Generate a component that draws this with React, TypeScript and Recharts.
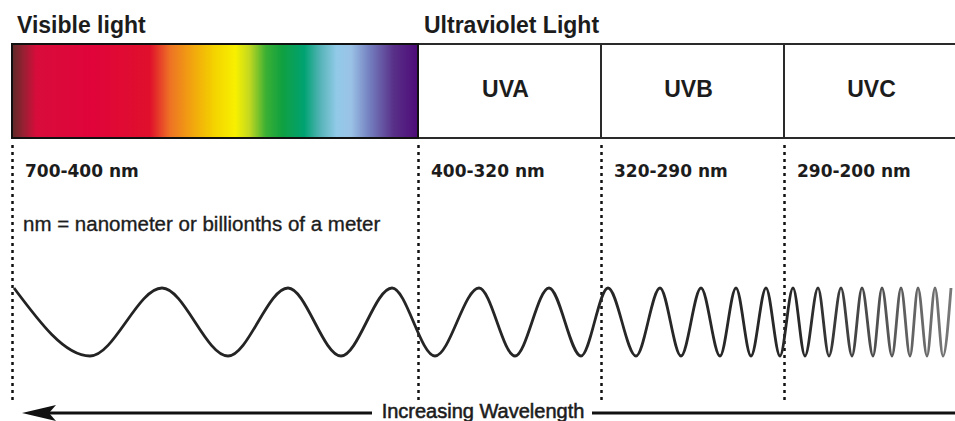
import React from "react";
import {
  ComposedChart,
  LineChart,
  Line,
  XAxis,
  YAxis,
  ReferenceArea,
  ReferenceLine,
  ReferenceDot,
} from "recharts";

// band edges along the diagram's x axis (visible, UVA, UVB, UVC)
const bandStart = [12, 418, 601, 784];
const bandEnd = [418, 601, 784, 967];
const rangeLabels = ["700-400 nm", "400-320 nm", "320-290 nm", "290-200 nm"];
const uvNames = ["UVA", "UVB", "UVC"];

// crests (1) and troughs (-1) of the wave
const waveX = [
  14, 90, 162, 228, 288, 341, 392, 435, 479, 515, 549, 581, 608, 636, 660,
  681, 701, 720, 736, 751, 766, 780, 793, 805, 818, 829, 841, 852, 862, 873,
  882, 892, 901, 910, 918, 927, 935, 943, 951,
];
const waveAmp = [
  1, -1, 1, -1, 1, -1, 1, -1, 1, -1, 1, -1, 1, -1, 1, -1, 1, -1, 1, -1, 1,
  -1, 1, -1, 1, -1, 1, -1, 1, -1, 1, -1, 1, -1, 1, -1, 1, -1, 1,
];
const waveData = waveX.map((x, i) => ({ x, y: waveAmp[i] }));

const spectrumStops: [number, string][] = [
  [0, "#5e2a28"],
  [0.03, "#9a1f32"],
  [0.06, "#d80c3a"],
  [0.2, "#e0043a"],
  [0.34, "#e0102c"],
  [0.39, "#ee7424"],
  [0.45, "#f2aa0c"],
  [0.5, "#f4d400"],
  [0.55, "#f8f000"],
  [0.585, "#c2d820"],
  [0.625, "#3cb034"],
  [0.665, "#10a040"],
  [0.72, "#00a272"],
  [0.76, "#56b4b8"],
  [0.8, "#92cae8"],
  [0.835, "#9ac2e6"],
  [0.88, "#7480c0"],
  [0.94, "#583088"],
  [1, "#4e0a78"],
];

const ARIAL = "'Liberation Sans', Arial, Helvetica, sans-serif";
const DEJAVU = "'DejaVu Sans', Verdana, sans-serif";

const textLabel =
  (
    value: string,
    size: number,
    opts: { anchor?: string; weight?: string; family?: string; stroke?: number } = {}
  ) =>
  (props: any) => {
    const vb = props.viewBox || props;
    return (
      <text
        x={vb.x}
        y={vb.y}
        fontSize={size}
        fontFamily={opts.family || ARIAL}
        fontWeight={opts.weight || "normal"}
        textAnchor={opts.anchor || "start"}
        fill="#1c1c1c"
        stroke={opts.stroke ? "#1c1c1c" : "none"}
        strokeWidth={opts.stroke || 0}
      >
        {value}
      </text>
    );
  };

const arrowShape = (props: any) => {
  const { x1, y1, x2 } = props;
  return (
    <g>
      <line x1={x1 + 12} y1={y1} x2={x2} y2={y1} stroke="#111" strokeWidth={3} />
      <path
        d={`M${x1},${y1} L${x1 + 34},${y1 - 8} L${x1 + 27},${y1} L${x1 + 34},${y1 + 8} Z`}
        fill="#111"
      />
    </g>
  );
};

const plainLine = (props: any) => (
  <line x1={props.x1} y1={props.y1} x2={props.x2} y2={props.y2} stroke="#111" strokeWidth={3} />
);

const dot = { r: 0, fill: "none", stroke: "none", ifOverflow: "visible" as const };

export default function App() {
  return (
    <div
      style={{
        position: "absolute",
        left: 0,
        top: 0,
        width: 955,
        height: 421,
        background: "#fff",
        overflow: "hidden",
      }}
    >
      <div style={{ position: "absolute", left: 0, top: 0 }}>
        <ComposedChart width={955} height={421} margin={{ top: 0, right: 0, bottom: 0, left: 0 }}>
          <defs>
            <linearGradient id="spectrum" x1="0" y1="0" x2="1" y2="0">
              {spectrumStops.map(([o, c]) => (
                <stop key={o} offset={o} stopColor={c} />
              ))}
            </linearGradient>
          </defs>
          <XAxis type="number" dataKey="x" domain={[0, 955]} hide allowDataOverflow />
          <YAxis type="number" domain={[0, 421]} reversed hide allowDataOverflow />

          {/* UV boxes */}
          {uvNames.map((n, i) => (
            <ReferenceArea
              key={n}
              x1={bandStart[i + 1]}
              x2={bandEnd[i + 1]}
              y1={44}
              y2={138}
              fill="#fff"
              fillOpacity={1}
              stroke="#2a2a2a"
              strokeWidth={2}
              ifOverflow="hidden"
            />
          ))}
          {/* visible spectrum */}
          <ReferenceArea
            x1={bandStart[0]}
            x2={bandEnd[0]}
            y1={44}
            y2={138}
            fill="url(#spectrum)"
            fillOpacity={1}
            stroke="#111"
            strokeWidth={2}
          />

          {bandStart.map((s) => (
            <ReferenceLine
              key={"d" + s}
              segment={[
                { x: s + 0.5, y: 145 },
                { x: s + 0.5, y: 400 },
              ]}
              stroke="#111"
              strokeWidth={2.5}
              strokeDasharray="3 4"
            />
          ))}

          <ReferenceLine
            segment={[
              { x: 22, y: 413 },
              { x: 372, y: 413 },
            ]}
            shape={arrowShape}
          />
          <ReferenceLine
            segment={[
              { x: 592, y: 413 },
              { x: 955, y: 413 },
            ]}
            shape={plainLine}
          />

          <ReferenceDot x={17} y={33} {...dot} label={textLabel("Visible light", 23, { weight: "bold" })} />
          <ReferenceDot x={424} y={33} {...dot} label={textLabel("Ultraviolet Light", 23, { weight: "bold" })} />

          {uvNames.map((n, i) => (
            <ReferenceDot
              key={"n" + n}
              x={(bandStart[i + 1] + bandEnd[i + 1]) / 2 - 4}
              y={97}
              {...dot}
              label={textLabel(n, 23, { weight: "bold", anchor: "middle" })}
            />
          ))}

          {rangeLabels.map((l, i) => (
            <ReferenceDot
              key={l}
              x={bandStart[i] + 13}
              y={177}
              {...dot}
              label={textLabel(l, 17, { weight: "bold", family: DEJAVU })}
            />
          ))}

          <ReferenceDot
            x={23}
            y={231}
            {...dot}
            label={textLabel("nm = nanometer or billionths of a meter", 20.5, { stroke: 0.35 })}
          />
          <ReferenceDot
            x={483}
            y={418}
            {...dot}
            label={textLabel("Increasing Wavelength", 20, { anchor: "middle", stroke: 0.55 })}
          />
        </ComposedChart>
      </div>

      <div style={{ position: "absolute", left: 0, top: 278 }}>
        <LineChart width={955} height={88} data={waveData} margin={{ top: 10, right: 0, bottom: 10, left: 0 }}>
          <defs>
            <linearGradient id="waveFade" gradientUnits="userSpaceOnUse" x1="0" y1="0" x2="955" y2="0">
              <stop offset={0} stopColor="#222" />
              <stop offset={0.84} stopColor="#282828" />
              <stop offset={1} stopColor="#7a7a7a" />
            </linearGradient>
          </defs>
          <XAxis type="number" dataKey="x" domain={[0, 955]} hide />
          <YAxis type="number" domain={[-1, 1]} hide />
          <Line
            type="monotone"
            dataKey="y"
            stroke="url(#waveFade)"
            strokeWidth={2.8}
            dot={false}
            activeDot={false}
            isAnimationActive={false}
          />
        </LineChart>
      </div>
    </div>
  );
}
